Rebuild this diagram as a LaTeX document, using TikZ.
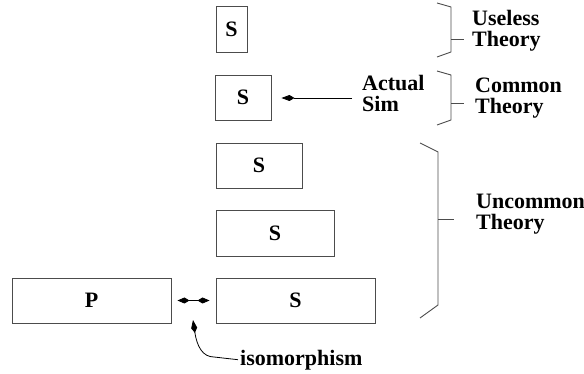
\documentclass[tikz,border=0pt]{standalone}
\usepackage{fontspec}
\setmainfont{Liberation Serif}
\usetikzlibrary{arrows.meta}

\tikzset{
  simbox/.style={draw=black!70, line width=0.9pt, inner sep=0pt,
    font=\fontsize{22}{22}\selectfont\bfseries},
  tag/.style={inner sep=0pt, anchor=base west, align=left,
    font=\fontsize{22}{21.5}\selectfont\bfseries},
  bracket/.style={draw=black!70, line width=0.9pt},
  kite/.style={-{Kite[length=13pt,width=6pt,inset=5pt]}, line width=0.8pt},
  dkite/.style={{Kite[length=12pt,width=6pt,inset=5pt]}-{Kite[length=12pt,width=6pt,inset=5pt]}, line width=0.8pt},
}

\begin{document}
\begin{tikzpicture}[x=1pt,y=-1pt]
\useasboundingbox (0,0) rectangle (584,374);

% simulation boxes
\node[simbox, minimum width=31pt,  minimum height=46pt] (s1) at (231.5,29)   {S};
\node[simbox, minimum width=56pt,  minimum height=45pt] (s2) at (243,97.5)   {S};
\node[simbox, minimum width=86pt,  minimum height=45pt] (s3) at (259,165.5)  {S};
\node[simbox, minimum width=118pt, minimum height=46pt] (s4) at (275,233)    {S};
\node[simbox, minimum width=159pt, minimum height=45pt] (s5) at (295.5,300.5) {S};
\node[simbox, minimum width=159pt, minimum height=45pt] (p)  at (91.5,300.5) {P};

% labels (anchored on the baseline of their last line)
\node[tag] (useless)  at (472,47)  {Useless\\Theory};
\node[tag] (common)   at (475,114) {Common\\Theory};
\node[tag] (uncommon) at (476,230) {Uncommon\\Theory};
\node[tag] (actual)   at (362,112) {Actual\\Sim};
\node[tag] (iso)      at (240,365) {isomorphism};

% brackets grouping the theories
\draw[bracket] (437,3) -- (451,7) -- (451,52) -- (437,57);
\draw[bracket] (451,39) -- (464,39);
\draw[bracket] (437,71) -- (451,75) -- (451,120) -- (437,125);
\draw[bracket] (451,103) -- (464,103);
\draw[bracket] (420,143) -- (438,152) -- (438,305) -- (420,318);
\draw[bracket] (438,219) -- (454,219);

% connectors
\coordinate (simtail) at (352,98);
\draw[kite, shorten >=10pt] (simtail) -- (s2.east |- simtail);
\draw[dkite, shorten <=6pt, shorten >=6pt] (p.east) -- (s5.west);
\coordinate (isotip) at (193,320);
\draw[kite] ([xshift=-2pt]iso.west) -- (214,357)
  .. controls (203,357) and (197,347) .. (isotip);
\end{tikzpicture}
\end{document}
